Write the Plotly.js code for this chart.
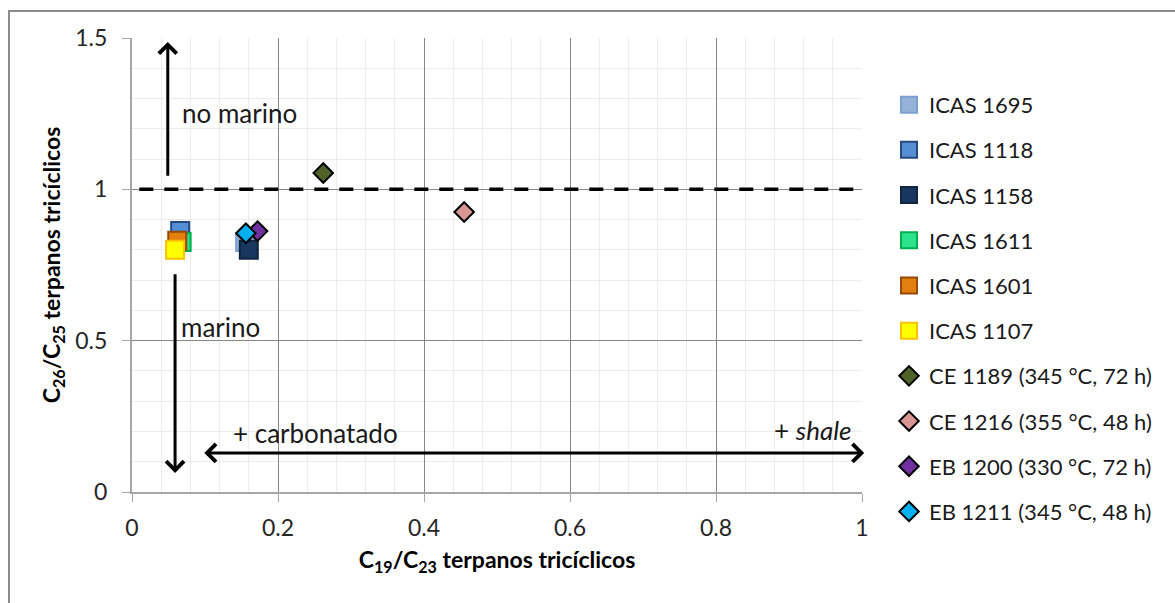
<!DOCTYPE html>
<html>
<head>
<meta charset="utf-8">
<script src="https://cdn.plot.ly/plotly-3.0.1.min.js"></script>
<style>
  html, body { margin: 0; padding: 0; background: #fff; }
  #wrap { position: relative; width: 1175px; height: 603px; overflow: hidden; }
  #chart { width: 1175px; height: 603px; }
  #frame { position: absolute; left: 8px; top: 10px; width: 1200px; height: 640px;
           border: 2px solid #8c8c8c; pointer-events: none; box-sizing: border-box; }
</style>
</head>
<body>
<div id="wrap">
  <div id="chart"></div>
  <div id="frame"></div>
</div>
<script>
// ---- data ----
const seriesNames = [
  'ICAS 1695', 'ICAS 1118', 'ICAS 1158', 'ICAS 1611', 'ICAS 1601', 'ICAS 1107',
  'CE 1189 (345 °C, 72 h)', 'CE 1216 (355 °C, 48 h)', 'EB 1200 (330 °C, 72 h)', 'EB 1211 (345 °C, 48 h)'
];
const c19c23 = [[0.155], [0.066], [0.160], [0.068], [0.062], [0.059], [0.262], [0.455], [0.172], [0.156]];
const c26c25 = [[0.826], [0.862], [0.800], [0.826], [0.830], [0.800], [1.054], [0.925], [0.862], [0.855]];
const xTickVals = [0, 0.2, 0.4, 0.6, 0.8, 1];
const yTickVals = [0, 0.5, 1, 1.5];
const thresholdY = [1];

// ---- styles ----
const styles = [
  {symbol: 'square',  fill: '#95b3d7', line: '#7ba0d4'},
  {symbol: 'square',  fill: '#558ed5', line: '#254a80'},
  {symbol: 'square',  fill: '#17375e', line: '#10253f'},
  {symbol: 'square',  fill: '#2be38a', line: '#00b050'},
  {symbol: 'square',  fill: '#e3800d', line: '#984807'},
  {symbol: 'square',  fill: '#ffff00', line: '#ffc000'},
  {symbol: 'diamond', fill: '#4f6228', line: '#000000'},
  {symbol: 'diamond', fill: '#d99694', line: '#000000'},
  {symbol: 'diamond', fill: '#7030a0', line: '#000000'},
  {symbol: 'diamond', fill: '#00b0f0', line: '#000000'}
];

const traces = seriesNames.map((name, i) => ({
  type: 'scatter',
  mode: 'markers',
  name: name,
  legendgroup: 'g' + i,
  x: c19c23[i],
  y: c26c25[i],
  cliponaxis: false,
  marker: {
    symbol: styles[i].symbol,
    size: styles[i].symbol === 'square' ? 18 : 15,
    color: styles[i].fill,
    line: {color: styles[i].line, width: 2}
  },
  hoverinfo: 'skip'
}));

const FONT = 'Lato, "Open Sans", sans-serif';
const txtFont = {family: FONT, size: 26, color: '#1a1a1a'};

const arrowCommon = {
  xref: 'x', yref: 'y', axref: 'x', ayref: 'y',
  text: '', showarrow: true, arrowhead: 4, arrowsize: 1.15, arrowwidth: 3,
  arrowcolor: '#000', standoff: 0, startstandoff: 0
};

const layout = {
  width: 1175, height: 603,
  margin: {l: 132, r: 313, t: 38, b: 111},
  paper_bgcolor: 'rgba(0,0,0,0)',
  plot_bgcolor: '#fff',
  font: {family: FONT, size: 22, color: '#262626'},
  showlegend: true,
  hovermode: false,
  xaxis: {
    range: [0, 1],
    tickvals: xTickVals,
    showgrid: true, gridcolor: '#878787', gridwidth: 1,
    minor: {dtick: 0.04, showgrid: true, gridcolor: '#ececec', gridwidth: 1},
    zeroline: false,
    showline: true, linecolor: '#a6a6a6', linewidth: 2,
    ticks: 'outside', ticklen: 8, tickcolor: '#a6a6a6', tickwidth: 1,
    ticklabelstandoff: 6,
    tickfont: {family: FONT, size: 23, color: '#262626'},
    title: {text: '<b>C<sub>19</sub>/C<sub>23</sub> terpanos tricíclicos</b>',
            font: {family: FONT, size: 23, color: '#000'}, standoff: 12}
  },
  yaxis: {
    range: [0, 1.5],
    tickvals: yTickVals,
    showgrid: true, gridcolor: '#878787', gridwidth: 1,
    minor: {dtick: 0.1, showgrid: true, gridcolor: '#ececec', gridwidth: 1},
    zeroline: false,
    showline: true, linecolor: '#a6a6a6', linewidth: 2,
    ticks: 'outside', ticklen: 8, tickcolor: '#a6a6a6', tickwidth: 1,
    ticklabelstandoff: 10,
    tickfont: {family: FONT, size: 23, color: '#262626'},
    title: {text: '<b>C<sub>26</sub>/C<sub>25</sub> terpanos tricíclicos</b>',
            font: {family: FONT, size: 23, color: '#000'}, standoff: 8}
  },
  legend: {
    x: 1.037, xanchor: 'left', y: 0.899, yanchor: 'top',
    font: {family: FONT, size: 22, color: '#1a1a1a'},
    tracegroupgap: 13.6, bgcolor: 'rgba(0,0,0,0)', maxheight: 600,
    itemclick: false, itemdoubleclick: false
  },
  shapes: [{
    type: 'line', xref: 'x', yref: 'y',
    x0: 0.01, x1: 1.011, y0: thresholdY[0], y1: thresholdY[0],
    line: {color: '#000', width: 3.5, dash: '14px,11px'},
    layer: 'above'
  }],
  annotations: [
    Object.assign({}, arrowCommon, {x: 0.049, y: 1.487, ax: 0.049, ay: 1.04}),
    Object.assign({}, arrowCommon, {x: 0.059, y: 0.063, ax: 0.059, ay: 0.724}),
    Object.assign({}, arrowCommon, {x: 1.003, y: 0.129, ax: 0.097, ay: 0.129,
      arrowside: 'end+start', startarrowhead: 4, startarrowsize: 1.15}),
    {xref: 'x', yref: 'y', x: 0.066, y: 1.252, xanchor: 'left', yanchor: 'middle',
     text: 'no marino', showarrow: false, font: txtFont},
    {xref: 'x', yref: 'y', x: 0.064, y: 0.545, xanchor: 'left', yanchor: 'middle',
     text: 'marino', showarrow: false, font: txtFont},
    {xref: 'x', yref: 'y', x: 0.136, y: 0.196, xanchor: 'left', yanchor: 'middle',
     text: '+ carbonatado', showarrow: false, font: txtFont},
    {xref: 'x', yref: 'y', x: 0.989, y: 0.205, xanchor: 'right', yanchor: 'middle',
     text: '+ <i>shale</i>', showarrow: false, font: txtFont}
  ]
};

Plotly.newPlot('chart', traces, layout, {displayModeBar: false, staticPlot: true});
</script>
</body>
</html>
